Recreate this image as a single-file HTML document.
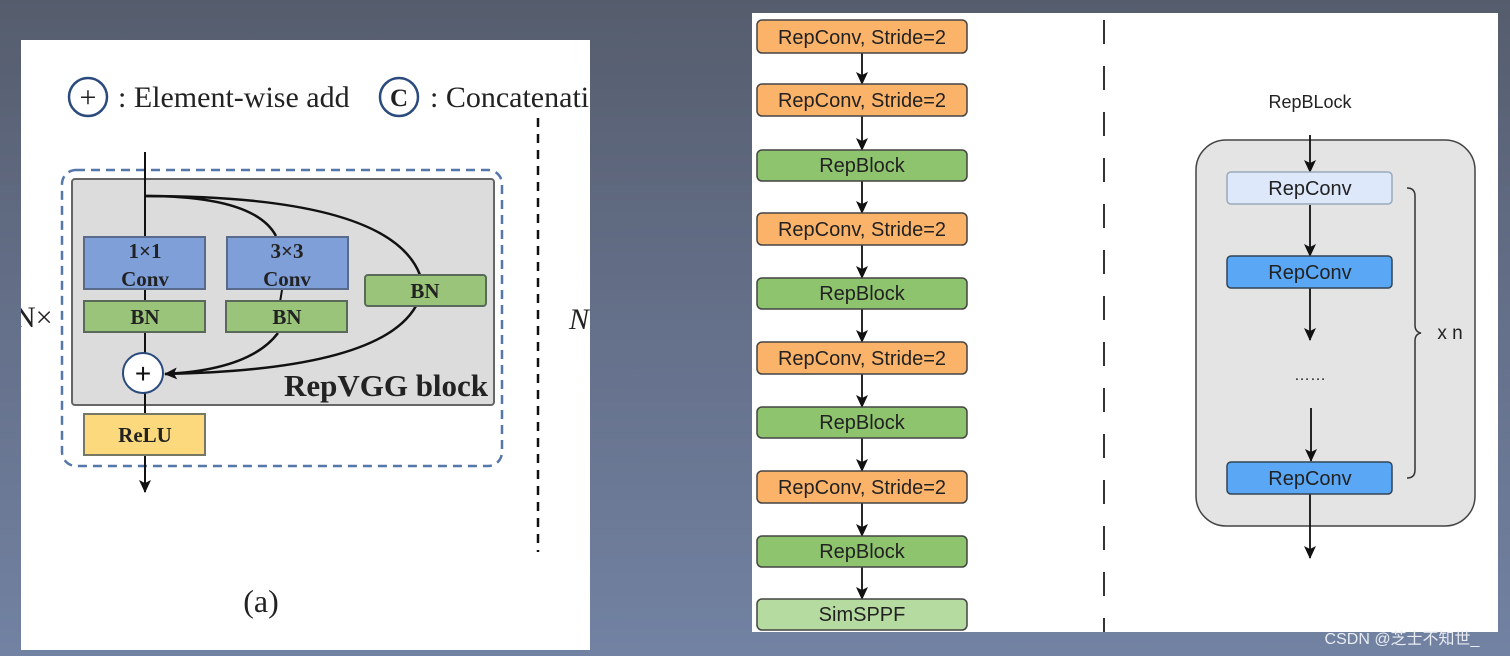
<!DOCTYPE html>
<html><head><meta charset="utf-8"><style>
html,body{margin:0;padding:0;width:1510px;height:656px;overflow:hidden;background:linear-gradient(180deg,#555d6d 0%,#65708a 50%,#7282a2 100%);}
svg{position:absolute;left:0;top:0}
</style></head><body>
<svg width="1510" height="656" viewBox="0 0 1510 656" xmlns="http://www.w3.org/2000/svg">
<defs>
<marker id="a" markerWidth="14" markerHeight="14" refX="12" refY="7" orient="auto" markerUnits="userSpaceOnUse"><path d="M0,1 L13,7 L0,13 L3,7 z" fill="#111"/></marker>
<marker id="b" markerWidth="14" markerHeight="14" refX="12" refY="7" orient="auto" markerUnits="userSpaceOnUse"><path d="M0,1 L13,7 L0,13 L3,7 z" fill="#111"/></marker>
<clipPath id="lp"><rect x="21" y="40" width="569" height="610"/></clipPath>
</defs>
<!-- left panel -->
<rect x="21" y="40" width="569" height="610" fill="#fff"/>
<g clip-path="url(#lp)">
<g font-family="Liberation Serif, serif" fill="#222">
<circle cx="88" cy="97" r="19" fill="#fff" stroke="#2b4a7e" stroke-width="2.5"/>
<text x="88" y="107" font-size="30" text-anchor="middle">+</text>
<text x="118" y="107" font-size="30">: Element-wise add</text>
<circle cx="399" cy="97" r="19" fill="#fff" stroke="#2b4a7e" stroke-width="2.5"/>
<text x="399" y="106" font-size="25" font-weight="bold" text-anchor="middle">C</text>
<text x="430" y="107" font-size="30">: Concatenation</text>
<text x="14" y="327" font-size="30">N×</text>
<text x="569" y="329" font-size="30" font-style="italic">N</text>
<text x="261" y="612" font-size="32" text-anchor="middle">(a)</text>
</g>
</g>
<line x1="538" y1="118" x2="538" y2="552" stroke="#111" stroke-width="2.5" stroke-dasharray="9,7"/>
<rect x="62" y="170" width="440" height="296" rx="14" fill="none" stroke="#5577aa" stroke-width="2.5" stroke-dasharray="9,6"/>
<rect x="72" y="179" width="422" height="226" rx="3" fill="#dcdcdc" stroke="#666" stroke-width="2"/>
<line x1="145" y1="152" x2="145" y2="492" stroke="#111" stroke-width="2" marker-end="url(#a)"/>
<path d="M145,196 Q255,196 276,236" fill="none" stroke="#111" stroke-width="2.5"/>
<path d="M145,196 Q390,196 420,275" fill="none" stroke="#111" stroke-width="2.5"/>
<path d="M282,290 L280,302" fill="none" stroke="#111" stroke-width="2"/>
<path d="M278,333 Q250,370 165,374" fill="none" stroke="#111" stroke-width="2.5" marker-end="url(#b)"/>
<path d="M416,306 Q380,370 165,374" fill="none" stroke="#111" stroke-width="2.5"/>
<g font-family="Liberation Serif, serif" font-weight="bold" fill="#222" text-anchor="middle">
<rect x="84" y="237" width="121" height="52" fill="#7f9fd9" stroke="#5a6a8a" stroke-width="2"/>
<text x="145" y="258" font-size="21">1×1</text><text x="145" y="286" font-size="21">Conv</text>
<rect x="227" y="237" width="121" height="52" fill="#7f9fd9" stroke="#5a6a8a" stroke-width="2"/>
<text x="287" y="258" font-size="21">3×3</text><text x="287" y="286" font-size="21">Conv</text>
<rect x="84" y="301" width="121" height="31" fill="#99c47a" stroke="#5a6a5a" stroke-width="2"/>
<text x="145" y="324" font-size="21">BN</text>
<rect x="226" y="301" width="121" height="31" fill="#99c47a" stroke="#5a6a5a" stroke-width="2"/>
<text x="287" y="324" font-size="21">BN</text>
<rect x="365" y="275" width="121" height="31" rx="3" fill="#99c47a" stroke="#5a6a5a" stroke-width="2"/>
<text x="425" y="298" font-size="21">BN</text>
<rect x="84" y="414" width="121" height="41" fill="#fbd97c" stroke="#776" stroke-width="2"/>
<text x="145" y="442" font-size="21">ReLU</text>
<text x="386" y="396" font-size="31">RepVGG block</text>
</g>
<circle cx="143" cy="373" r="20" fill="#fff" stroke="#2b4a7e" stroke-width="2"/>
<text x="143" y="383" font-family="Liberation Sans, sans-serif" font-size="28" text-anchor="middle" fill="#111">+</text>

<!-- right panel -->
<rect x="752" y="13" width="746" height="619" fill="#fff"/>
<line x1="1104" y1="20" x2="1104" y2="632" stroke="#333" stroke-width="2" stroke-dasharray="24,22"/>
<g font-family="Liberation Sans, sans-serif" font-size="20" text-anchor="middle" fill="#222">
<g stroke="#111" stroke-width="1.8">
<line x1="862" y1="53" x2="862" y2="84" marker-end="url(#a)"/>
<line x1="862" y1="116" x2="862" y2="150" marker-end="url(#a)"/>
<line x1="862" y1="181" x2="862" y2="213" marker-end="url(#a)"/>
<line x1="862" y1="245" x2="862" y2="278" marker-end="url(#a)"/>
<line x1="862" y1="309" x2="862" y2="342" marker-end="url(#a)"/>
<line x1="862" y1="374" x2="862" y2="407" marker-end="url(#a)"/>
<line x1="862" y1="438" x2="862" y2="471" marker-end="url(#a)"/>
<line x1="862" y1="503" x2="862" y2="536" marker-end="url(#a)"/>
<line x1="862" y1="567" x2="862" y2="599" marker-end="url(#a)"/>
</g>
<g stroke="#444" stroke-width="1.5">
<rect x="757" y="20" width="210" height="33" rx="5" fill="#fbb36a"/>
<rect x="757" y="84" width="210" height="32" rx="5" fill="#fbb36a"/>
<rect x="757" y="150" width="210" height="31" rx="5" fill="#8ec46e"/>
<rect x="757" y="213" width="210" height="32" rx="5" fill="#fbb36a"/>
<rect x="757" y="278" width="210" height="31" rx="5" fill="#8ec46e"/>
<rect x="757" y="342" width="210" height="32" rx="5" fill="#fbb36a"/>
<rect x="757" y="407" width="210" height="31" rx="5" fill="#8ec46e"/>
<rect x="757" y="471" width="210" height="32" rx="5" fill="#fbb36a"/>
<rect x="757" y="536" width="210" height="31" rx="5" fill="#8ec46e"/>
<rect x="757" y="599" width="210" height="31" rx="5" fill="#b5dba0"/>
</g>
<text x="862" y="44">RepConv, Stride=2</text>
<text x="862" y="107">RepConv, Stride=2</text>
<text x="862" y="172">RepBlock</text>
<text x="862" y="236">RepConv, Stride=2</text>
<text x="862" y="300">RepBlock</text>
<text x="862" y="365">RepConv, Stride=2</text>
<text x="862" y="429">RepBlock</text>
<text x="862" y="494">RepConv, Stride=2</text>
<text x="862" y="558">RepBlock</text>
<text x="862" y="621">SimSPPF</text>

<text x="1310" y="108" font-size="18">RepBLock</text>
<rect x="1196" y="140" width="279" height="386" rx="30" fill="#e4e4e4" stroke="#444" stroke-width="1.5"/>
<g stroke="#111" stroke-width="1.8">
<line x1="1310" y1="135" x2="1310" y2="172" marker-end="url(#a)"/>
<line x1="1310" y1="205" x2="1310" y2="256" marker-end="url(#a)"/>
<line x1="1310" y1="288" x2="1310" y2="340" marker-end="url(#a)"/>
<line x1="1311" y1="408" x2="1311" y2="461" marker-end="url(#a)"/>
<line x1="1310" y1="494" x2="1310" y2="558" marker-end="url(#a)"/>
</g>
<rect x="1227" y="172" width="165" height="32" rx="4" fill="#dde9fb" stroke="#9ab" stroke-width="1.5"/>
<rect x="1227" y="256" width="165" height="32" rx="4" fill="#5aa8f5" stroke="#345" stroke-width="1.5"/>
<rect x="1227" y="462" width="165" height="32" rx="4" fill="#5aa8f5" stroke="#345" stroke-width="1.5"/>
<text x="1310" y="195">RepConv</text>
<text x="1310" y="279">RepConv</text>
<text x="1310" y="485">RepConv</text>
<text x="1310" y="380" font-size="16">……</text>
<path d="M1407,188 Q1415,188 1415,196 L1415,325 Q1415,332 1421,333 Q1415,334 1415,341 L1415,470 Q1415,478 1407,478" fill="none" stroke="#333" stroke-width="1.5"/>
<text x="1450" y="339" font-size="19">x n</text>
</g>
<text x="1402" y="644" font-family="Liberation Sans, Noto Sans CJK SC, sans-serif" font-size="16" fill="#e8ecf2" text-anchor="middle">CSDN @芝士不知世_</text>
</svg>
</body></html>
